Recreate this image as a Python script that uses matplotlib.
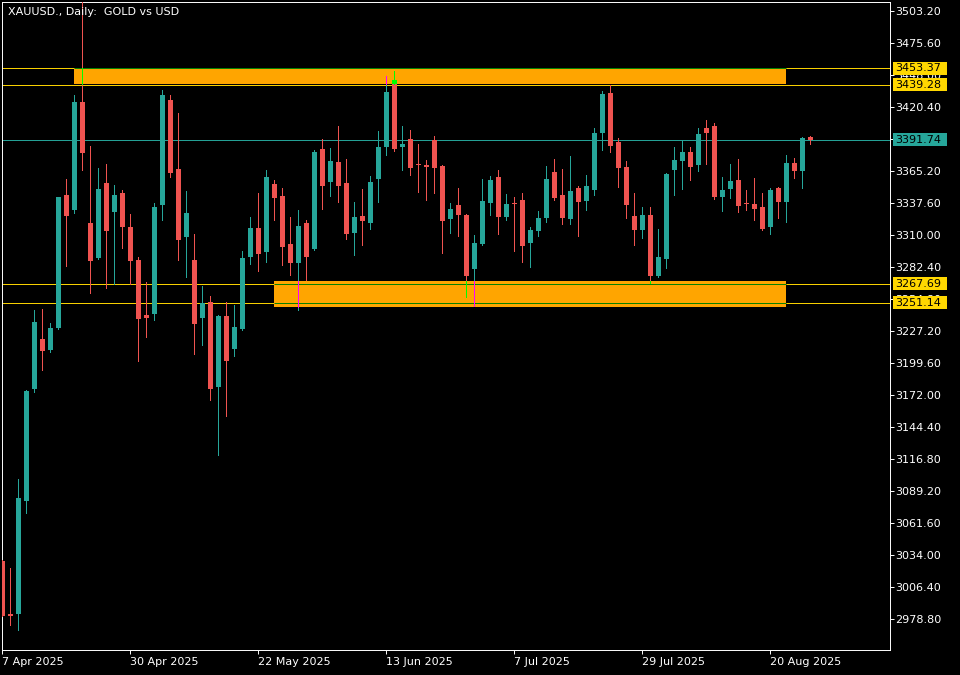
#import modules
import matplotlib
matplotlib.use("Agg")
import matplotlib.pyplot as plt
from matplotlib.patches import Rectangle
from matplotlib.transforms import blended_transform_factory
import numpy as np

#daily candles XAUUSD, 7 Apr 2025 - 27 Aug 2025
opens = [3028.6, 2983.0, 2983.1, 3080.3, 3176.9, 3220.0, 3210.6, 3229.5, 3344.2, 3331.3,
         3424.4, 3320.1, 3290.2, 3354.6, 3329.8, 3345.9, 3316.6, 3288.4, 3240.7, 3241.9,
         3335.9, 3426.2, 3366.7, 3308.3, 3288.4, 3238.1, 3252.0, 3178.6, 3239.9, 3211.4,
         3228.7, 3291.0, 3315.8, 3295.3, 3353.7, 3343.4, 3302.0, 3285.8, 3320.1, 3297.9,
         3383.9, 3355.7, 3372.7, 3354.6, 3311.7, 3326.1, 3320.4, 3358.3, 3385.9, 3443.4,
         3385.9, 3392.5, 3370.9, 3369.9, 3391.7, 3369.3, 3323.8, 3335.6, 3327.0, 3280.7,
         3302.2, 3337.6, 3359.8, 3325.5, 3337.0, 3339.9, 3303.1, 3313.4, 3324.7, 3364.1,
         3344.2, 3323.8, 3350.3, 3339.3, 3348.8, 3398.0, 3432.2, 3389.9, 3368.4, 3326.1,
         3314.3, 3327.0, 3274.6, 3289.3, 3366.1, 3373.8, 3381.3, 3370.4, 3402.0, 3403.8,
         3342.8, 3349.7, 3357.2, 3337.0, 3336.5, 3334.1, 3316.9, 3350.5, 3338.5, 3371.8,
         3365.2, 3394.3]
highs = [3029.0, 3022.5, 3099.3, 3176.0, 3245.1, 3245.9, 3233.8, 3342.5, 3358.0, 3430.2,
         3512.0, 3386.5, 3367.5, 3371.0, 3352.9, 3348.5, 3327.9, 3290.5, 3269.2, 3337.3,
         3434.8, 3430.5, 3415.0, 3347.7, 3310.6, 3265.8, 3257.1, 3240.7, 3252.0, 3249.4,
         3295.9, 3325.3, 3346.0, 3365.8, 3357.2, 3350.3, 3325.3, 3331.3, 3322.7, 3383.0,
         3392.5, 3384.8, 3403.8, 3375.3, 3338.2, 3349.4, 3360.6, 3399.4, 3446.9, 3451.2,
         3403.8, 3400.3, 3388.2, 3374.4, 3395.1, 3370.0, 3337.3, 3350.3, 3328.0, 3309.7,
         3358.0, 3360.6, 3365.8, 3345.1, 3342.5, 3346.0, 3316.6, 3330.4, 3369.3, 3375.3,
         3366.7, 3377.9, 3352.0, 3361.5, 3402.0, 3433.9, 3439.1, 3393.4, 3373.6, 3346.0,
         3333.9, 3333.9, 3314.9, 3363.2, 3385.6, 3391.7, 3385.6, 3402.0, 3408.9, 3406.1,
         3359.8, 3371.0, 3375.3, 3348.5, 3358.9, 3346.2, 3350.5, 3351.4, 3378.7, 3376.1,
         3394.0, 3394.8]
lows = [2981.0, 2973.4, 2969.0, 3070.2, 3174.3, 3193.3, 3208.8, 3228.7, 3283.3, 3329.0,
        3365.8, 3259.7, 3289.0, 3264.3, 3267.7, 3298.8, 3267.7, 3201.1, 3221.8, 3236.4,
        3322.9, 3360.0, 3288.4, 3273.8, 3207.1, 3214.9, 3167.4, 3120.0, 3153.6, 3205.4,
        3227.8, 3284.7, 3279.0, 3286.7, 3322.9, 3284.1, 3275.5, 3245.1, 3271.2, 3297.0,
        3332.4, 3343.6, 3338.5, 3306.6, 3292.7, 3301.4, 3315.2, 3338.5, 3379.0, 3382.5,
        3366.1, 3361.7, 3347.1, 3340.2, 3346.2, 3294.5, 3311.7, 3309.1, 3256.3, 3248.5,
        3301.4, 3327.3, 3310.9, 3322.9, 3296.2, 3286.7, 3282.4, 3309.1, 3321.2, 3340.2,
        3319.5, 3319.5, 3309.1, 3331.6, 3344.5, 3383.3, 3381.6, 3351.4, 3324.7, 3301.4,
        3307.4, 3268.1, 3273.8, 3281.5, 3344.5, 3349.7, 3357.4, 3365.2, 3371.0, 3341.0,
        3330.7, 3341.9, 3329.8, 3331.6, 3322.9, 3314.3, 3310.9, 3324.7, 3321.2, 3359.2,
        3350.5, 3388.5]
closes = [2981.4, 2981.5, 3082.9, 3175.2, 3234.7, 3209.7, 3229.5, 3342.5, 3326.4, 3424.4,
          3380.5, 3287.3, 3349.4, 3313.4, 3344.2, 3316.9, 3287.3, 3237.3, 3238.1, 3333.9,
          3430.5, 3363.2, 3305.7, 3328.7, 3233.0, 3250.8, 3176.9, 3239.9, 3201.1, 3230.4,
          3289.9, 3315.8, 3293.6, 3359.8, 3341.9, 3299.6, 3285.8, 3317.5, 3291.0, 3381.3,
          3352.3, 3373.6, 3352.3, 3310.9, 3325.3, 3322.1, 3355.5, 3385.6, 3433.1, 3383.7,
          3388.2, 3367.8, 3370.5, 3368.7, 3367.8, 3322.1, 3332.2, 3327.3, 3274.6, 3302.8,
          3339.1, 3357.2, 3325.5, 3336.5, 3336.4, 3300.5, 3314.0, 3324.4, 3358.0, 3341.9,
          3324.7, 3347.7, 3338.5, 3352.0, 3397.7, 3431.4, 3386.8, 3367.8, 3335.9, 3314.3,
          3327.0, 3274.6, 3290.8, 3362.4, 3374.4, 3381.3, 3368.7, 3396.8, 3397.7, 3342.8,
          3348.5, 3356.3, 3335.0, 3336.4, 3332.4, 3315.2, 3348.8, 3338.5, 3371.8, 3365.2,
          3393.4, 3391.74]

tick_dates = ["7 Apr 2025", "30 Apr 2025", "22 May 2025", "13 Jun 2025",
              "7 Jul 2025", "29 Jul 2025", "20 Aug 2025"]
tick_bars = [0, 16, 32, 48, 64, 80, 96]

levels = [3453.37, 3439.28, 3267.69, 3251.14]
last_price = 3391.74

#supply / demand zones: price range, first bar, last bar
zones = [(3440.4, 3453.37, 9, 98), (3247.9, 3270.1, 34, 98)]
zone_lines = [[3453.37], [3267.69, 3251.14]]

#colours
bull = "#26A69A"
bear = "#EF5350"
gold = "#FFD700"
lw = 0.7

W, H = 960, 675
fig = plt.figure(figsize=(W / 100, H / 100), dpi=100, facecolor="black")
ax = fig.add_axes([2 / W, 25 / H, 888 / W, 648 / H], facecolor="black")
ymin, ymax = 2951.8, 3510.7
ax.set_ylim(ymin, ymax)
ax.set_xlim(-0.04, 110.96)
ppx = (ymax - ymin) / 648  # price per pixel

o = np.array(opens)
h = np.array(highs)
l = np.array(lows)
c = np.array(closes)
x = np.arange(len(o))
up = c >= o
col = np.where(up, bull, bear)
body_lo = np.minimum(o, c)
body_h = np.maximum(np.abs(c - o), ppx)

#horizontal levels
for lev in levels:
    ax.axhline(lev, color=gold, lw=lw, zorder=1.6)
ax.axhline(last_price, color=bull, lw=lw, zorder=1.6)

#zones
for (lo, hi, i0, i1), lines in zip(zones, zone_lines):
    ax.add_patch(Rectangle((i0, lo), i1 - i0, hi - lo, fc="#FFA500", ec="none", zorder=2))
    ax.hlines(lines, i0, i1, colors="#008000", lw=lw, zorder=2.5)

#candles
ax.vlines(x, l, h, colors=col, lw=lw, zorder=4, antialiased=False)
ax.bar(x, body_h, bottom=body_lo, width=0.62, color=col, linewidth=0, zorder=5, antialiased=False)

#parts of candles touching the zones
hl = np.where(up, "#FF00FF", "#00FF00")
for lo, hi, i0, i1 in zones:
    for i in range(i0, i1 + 1):
        a, b = max(l[i], lo), min(h[i], hi)
        if a < b:
            ax.vlines(i, a, b, colors=hl[i], lw=lw, zorder=6, antialiased=False)
        a, b = max(body_lo[i], lo), min(body_lo[i] + body_h[i], hi)
        if a < b:
            ax.bar(i, b - a, bottom=a, width=0.62, color=hl[i], linewidth=0, zorder=7, antialiased=False)

#axes style
for s in ax.spines.values():
    s.set_color("white")
    s.set_linewidth(lw)
yt = 2978.8 + 27.6 * np.arange(20)
ax.yaxis.tick_right()
ax.set_yticks(yt)
ax.set_yticklabels([f"{v:.2f}" for v in yt])
ax.tick_params(axis="y", colors="white", direction="out", length=3, width=lw, pad=1, labelsize=8)
ax.set_xticks(tick_bars)
ax.set_xticklabels(tick_dates, ha="left")
ax.tick_params(axis="x", colors="white", direction="out", length=3, width=lw, pad=2, labelsize=8)

#price labels on the right
trans = blended_transform_factory(ax.transAxes, ax.transData)
pxw = 1 / 888
boxes = [(3453.37, gold), (3439.28, gold), (last_price, bull), (3267.69, gold), (3251.14, gold)]
for val, fc in boxes:
    ax.add_patch(Rectangle((1 + 3 * pxw, val - 6.5 * ppx), 54 * pxw, 13 * ppx, transform=trans,
                           fc=fc, ec="none", clip_on=False, zorder=10))
    ax.text(1 + 5 * pxw, val, f"{val:.2f}", transform=trans, color="black", fontsize=8,
            va="center", ha="left", zorder=11, clip_on=False)

fig.text(8 / W, 1 - 12 / H, "XAUUSD., Daily:  GOLD vs USD", color="white", fontsize=8, va="center")

fig.savefig("out.png", dpi=100, facecolor="black")
